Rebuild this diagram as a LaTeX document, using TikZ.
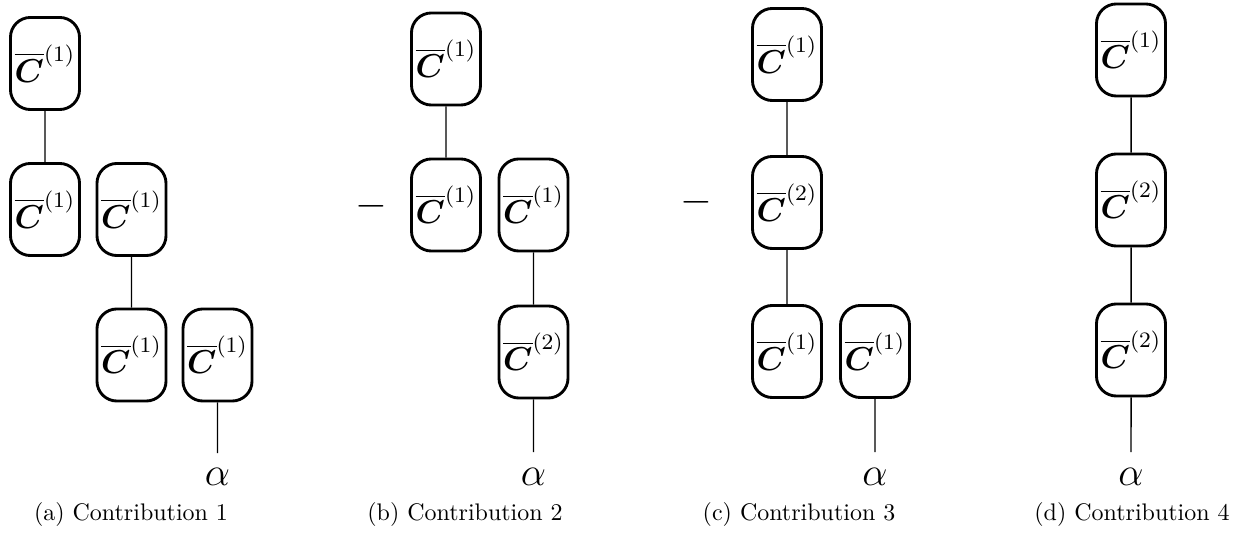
\documentclass[tikz,border=0pt]{standalone}
\usepackage{amsfonts}
\usepackage{amsmath}
\usepackage{graphicx}
\usepackage{tikz}

\newcommand{\Cbar}[1]{\scalebox{1.15}{$\overline{\boldsymbol{C}}^{(#1)}$}}
\newcommand{\sgn}{\scalebox{1.42}{$-$}}
\newcommand{\alf}{\scalebox{1.16}{$\alpha$}}

\begin{document}
\begin{tikzpicture}[scale=0.1466]
	\tikzstyle{every node}+=[inner sep=0pt]
	\tikzstyle{cbox}=[draw=black, very thick, rounded corners=8.3pt, minimum width=28.8pt, minimum height=38.4pt, font=\large]
	\tikzstyle{leg}=[black, line width=0.55pt]
	\tikzstyle{ext}=[anchor=base, font=\Large]
	\tikzstyle{capt}=[anchor=base]
	\tikzstyle{sign}=[font=\large]
	\useasboundingbox (0,0) rectangle (125.1,-53.5);
	% (a)
	\node [cbox] (a11) at (4.5,-6.35) {\Cbar{1}};
	\node [cbox] (a21) at (4.5,-20.95) {\Cbar{1}};
	\node [cbox] (a22) at (13.15,-20.95) {\Cbar{1}};
	\node [cbox] (a32) at (13.15,-35.5) {\Cbar{1}};
	\node [cbox] (a33) at (21.75,-35.5) {\Cbar{1}};
	\coordinate (aend) at (21.75,-45.3);
	\node [ext] (aalpha) at (21.75,-48.6) {\alf};
	\draw [leg] (a11) -- (a21);
	\draw [leg] (a22) -- (a32);
	\draw [leg] (a33) -- (aend);
	\node [capt] (acap) at (13.1,-52.1) {(a) Contribution 1};
	% (b)
	\node [sign] (bminus) at (37.15,-20.6) {\sgn};
	\node [cbox] (b11) at (44.6,-5.9) {\Cbar{1}};
	\node [cbox] (b21) at (44.6,-20.5) {\Cbar{1}};
	\node [cbox] (b22) at (53.35,-20.5) {\Cbar{1}};
	\node [cbox] (b32) at (53.35,-35.2) {\Cbar{2}};
	\coordinate (bend) at (53.35,-45.2);
	\node [ext] (balpha) at (53.35,-48.6) {\alf};
	\draw [leg] (b11) -- (b21);
	\draw [leg] (b22) -- (b32);
	\draw [leg] (b32) -- (bend);
	\node [capt] (bcap) at (46.5,-52.1) {(b) Contribution 2};
	% (c)
	\node [sign] (cminus) at (69.65,-20.2) {\sgn};
	\node [cbox] (c11) at (78.7,-5.45) {\Cbar{1}};
	\node [cbox] (c21) at (78.7,-20.25) {\Cbar{2}};
	\node [cbox] (c31) at (78.7,-35.15) {\Cbar{1}};
	\node [cbox] (c32) at (87.5,-35.15) {\Cbar{1}};
	\coordinate (cend) at (87.5,-45.2);
	\node [ext] (calpha) at (87.5,-48.6) {\alf};
	\draw [leg] (c11) -- (c21);
	\draw [leg] (c21) -- (c31);
	\draw [leg] (c32) -- (cend);
	\node [capt] (ccap) at (79.9,-52.1) {(c) Contribution 3};
	% (d)
	\node [cbox] (d11) at (113.1,-5) {\Cbar{1}};
	\node [cbox] (d21) at (113.1,-20) {\Cbar{2}};
	\node [cbox] (d31) at (113.1,-35) {\Cbar{2}};
	\coordinate (dend) at (113.1,-45.2);
	\node [ext] (dalpha) at (113.1,-48.6) {\alf};
	\draw [leg] (d11) -- (d21);
	\draw [leg] (d21) -- (d31);
	\draw [leg] (d31) -- (dend);
	\node [capt] (dcap) at (113.2,-52.1) {(d) Contribution 4};
\end{tikzpicture}
\end{document}
